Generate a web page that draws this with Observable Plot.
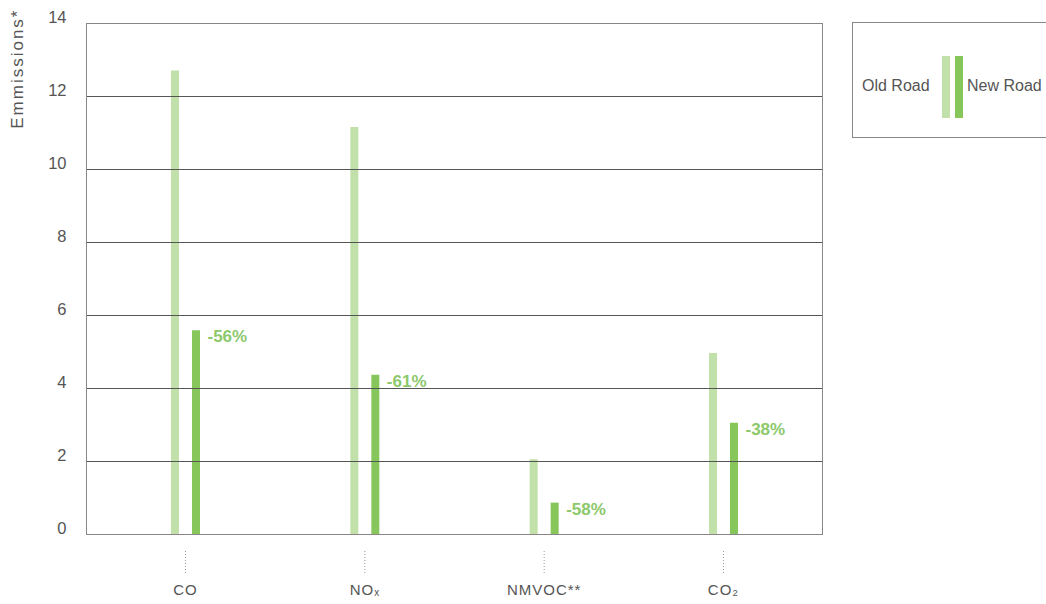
<!DOCTYPE html>
<html>
<head>
<meta charset="utf-8">
<script src="https://cdn.jsdelivr.net/npm/d3@7"></script>
<script src="https://cdn.jsdelivr.net/npm/@observablehq/plot@0.6"></script>
<style>
  body { margin: 0; background: #fff; font-family: "Liberation Sans", Arial, sans-serif; }
  #wrap { position: relative; width: 1046px; height: 604px; }
  #legend { position: absolute; left: 852px; top: 22px; width: 200px; height: 116px;
            border: 1px solid #8a8588; box-sizing: border-box; color: #555; font-size: 16px; }
  #legend .lbl { position: absolute; top: 63px; transform: translateY(-50%); white-space: nowrap; }
  #legend .sw { position: absolute; top: 33px; width: 8px; height: 62px; }
  .xlab text { letter-spacing: 1px; }
  .ytitle text { letter-spacing: 2px; }
</style>
</head>
<body>
<div id="wrap">
  <div id="chart"></div>
  <div id="legend">
    <span class="lbl" style="left:9px">Old Road</span>
    <div class="sw" style="left:89px;background:#c2e1aa"></div>
    <div class="sw" style="left:102px;background:#86c65a"></div>
    <span class="lbl" style="left:114px">New Road</span>
  </div>
</div>
<script>
const categories = ["CO", "NOₓ", "NMVOC**", "CO₂"];
const oldRoad = [12.7, 11.15, 2.05, 4.96];
const newRoad = [5.58, 4.36, 0.86, 3.05];
const changes = ["-56%", "-61%", "-58%", "-38%"];
const yTicks = [0, 2, 4, 6, 8, 10, 12, 14];
const yTitle = "Emmissions*";

const rows = categories.map((c, i) => ({cat: c, old: oldRoad[i], neu: newRoad[i], pct: changes[i]}));

const lightGreen = "#c2e1aa";
const darkGreen = "#86c65a";

const chart = Plot.plot({
  width: 1046,
  height: 604,
  marginLeft: 86,
  marginRight: 224,
  marginTop: 23,
  marginBottom: 70,
  style: {fontFamily: "Liberation Sans, Arial, sans-serif", color: "#555", background: "white"},
  x: {domain: categories, type: "point", padding: 0.552, round: false},
  y: {domain: [0, 14], ticks: yTicks},
  marks: [
    Plot.ruleX(rows, {x: "cat", y1: 0, y2: "old", stroke: lightGreen, strokeWidth: 8, dx: -10.5}),
    Plot.ruleX(rows, {x: "cat", y1: 0, y2: "neu", stroke: darkGreen, strokeWidth: 8, dx: 10.5}),
    Plot.gridY(yTicks, {stroke: "#555", strokeOpacity: 1, strokeWidth: 1}),
    Plot.frame({stroke: "#8a8588"}),
    Plot.text(rows, {x: "cat", y: "neu", text: "pct", dx: 22, dy: 6, textAnchor: "start",
      fill: "#8cc96a", fontWeight: "bold", fontSize: 17}),
    Plot.axisY(yTicks, {tickSize: 0, tickPadding: 20, dy: -6, fontSize: 16.5, fill: "#555", label: null}),
    Plot.text([yTitle], {frameAnchor: "top-left", rotate: -90, textAnchor: "end", lineAnchor: "middle",
      dx: -69, dy: -15, fontSize: 17, fill: "#555", className: "ytitle"}),
    Plot.axisX({tickSize: 22, dy: 17, tickPadding: 11, fontSize: 15, fill: "#555", className: "xlab",
      stroke: "#999", strokeDasharray: "1,2", label: null})
  ]
});
document.getElementById("chart").appendChild(chart);
</script>
</body>
</html>
